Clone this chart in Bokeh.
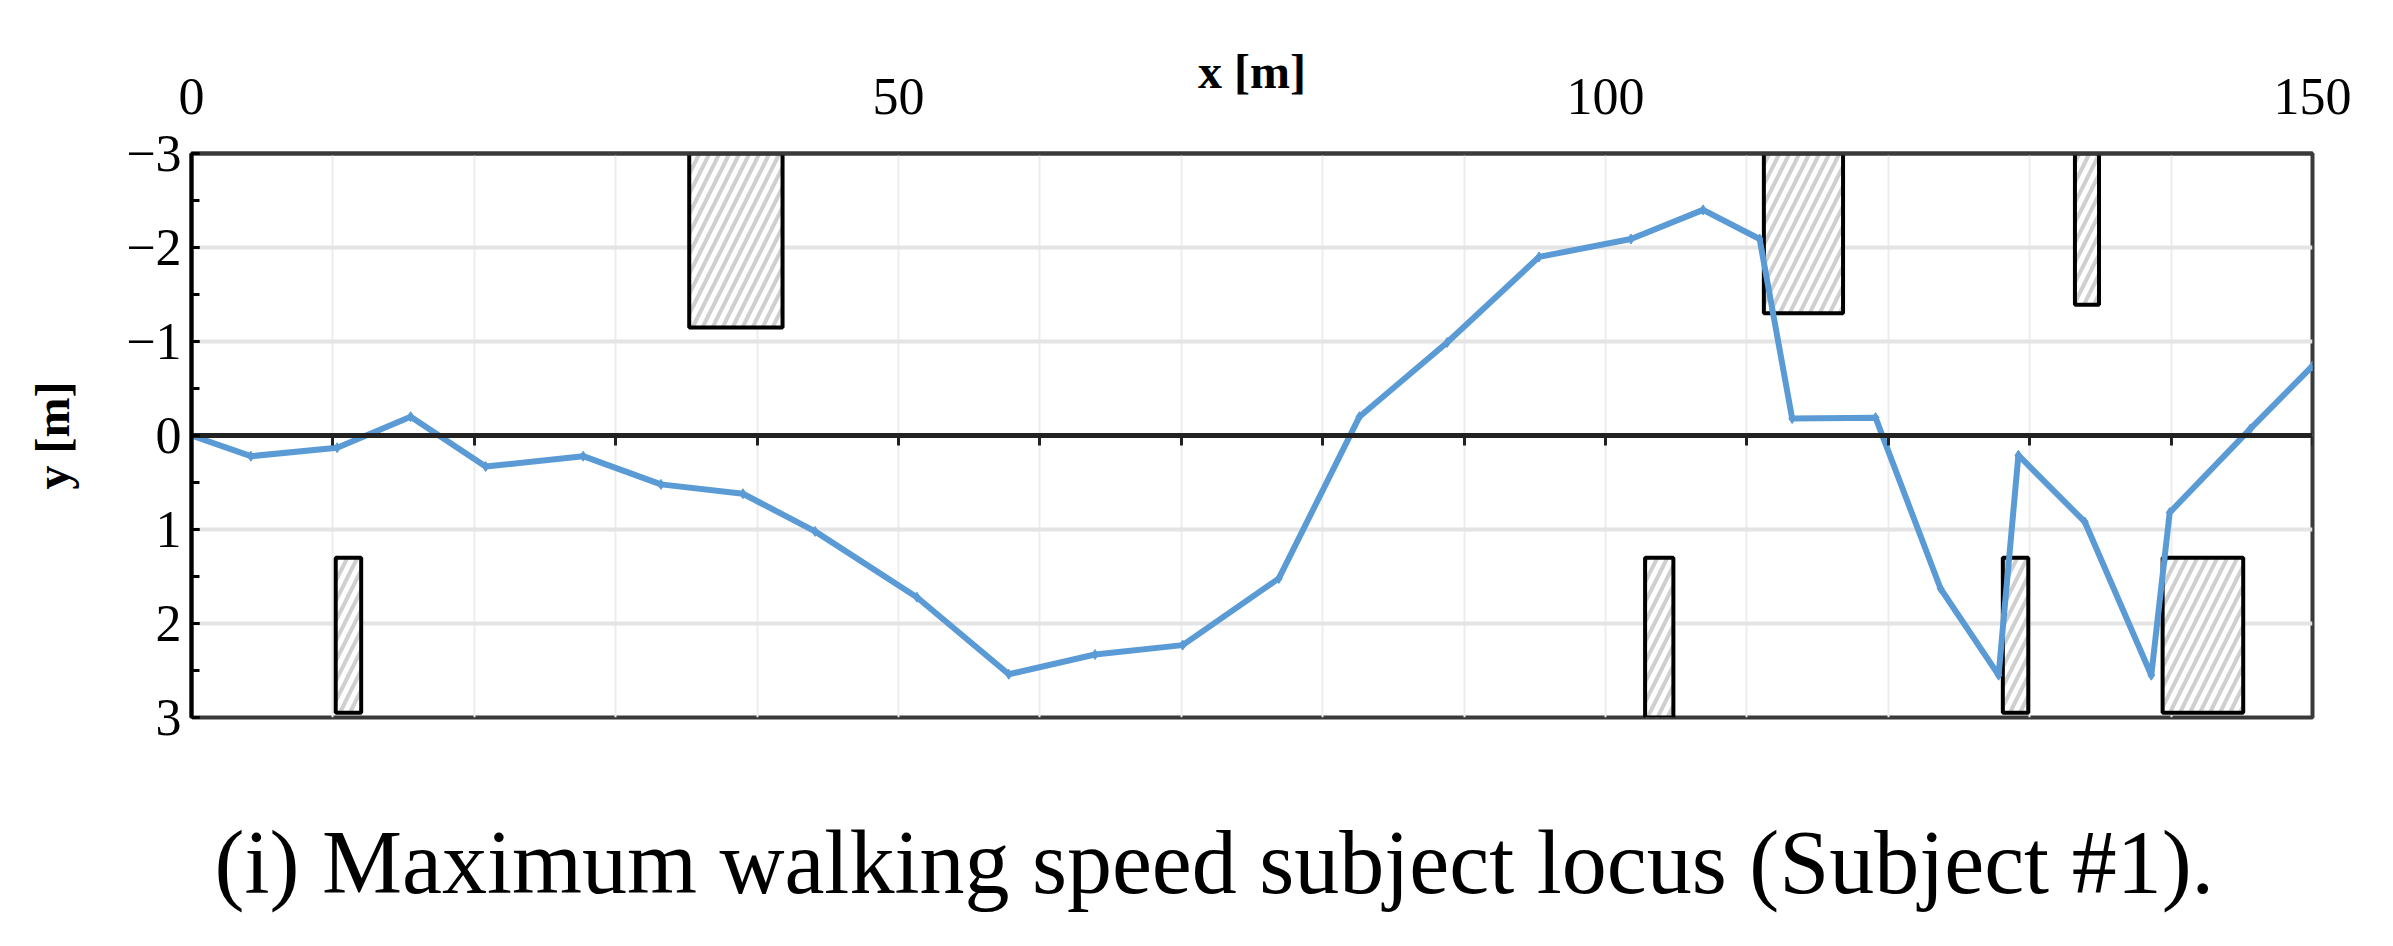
from bokeh.plotting import figure
from bokeh.models import Range1d, LinearAxis, SingleIntervalTicker, FixedTicker, Title
from bokeh.embed import file_html
from bokeh.resources import INLINE

# walking locus (x [m], y [m])
locus_x = [0, 4.2, 10.3, 15.5, 20.8, 27.7, 33.2, 39.0, 44.1, 51.3, 57.8, 63.9, 70.1, 76.9,
           82.6, 88.8, 95.3, 101.8, 106.9, 110.9, 113.2, 119.1, 123.7, 127.8, 129.2, 133.9,
           138.6, 139.9, 145.6, 150.0]
locus_y = [0, 0.22, 0.13, -0.2, 0.33, 0.22, 0.52, 0.62, 1.02, 1.72, 2.54, 2.33, 2.23, 1.52,
           -0.2, -0.99, -1.9, -2.09, -2.4, -2.09, -0.18, -0.19, 1.63, 2.55, 0.21, 0.92,
           2.55, 0.82, -0.07, -0.74]

# obstacles
obs_left = [35.2, 111.2, 133.2, 10.2, 102.8, 128.1, 139.4]
obs_right = [41.8, 116.8, 134.9, 12.0, 104.8, 129.9, 145.1]
obs_top = [-3.0, -3.0, -3.0, 1.3, 1.3, 1.3, 1.3]
obs_bottom = [-1.15, -1.3, -1.39, 2.95, 3.0, 2.95, 2.95]

x_top_ticks = [0, 50, 100, 150]
y_ticks = [-3, -2, -1, 0, 1, 2, 3]
y_labels = ["\u22123", "\u22122", "\u22121", "0", "1", "2", "3"]

caption = "(i) Maximum walking speed subject locus (Subject #1)."

SERIF = "Liberation Serif"

p = figure(width=2377, height=930, output_backend="svg", toolbar_location=None,
           x_range=Range1d(0, 150), y_range=Range1d(3, -3),
           x_axis_location="above",
           min_border_left=191, min_border_right=65, min_border_top=153, min_border_bottom=213)

p.outline_line_color = "#3a3a3a"
p.outline_line_width = 4

# top axis
xa = p.xaxis[0]
xa.ticker = FixedTicker(ticks=x_top_ticks)
xa.major_tick_out = 0
xa.major_tick_in = 0
xa.minor_tick_out = 0
xa.minor_tick_in = 0
xa.axis_line_color = "#3a3a3a"
xa.axis_line_width = 4
xa.major_label_text_font = SERIF
xa.major_label_text_font_size = "52px"
xa.major_label_text_color = "black"
xa.major_label_standoff = 40
xa.axis_label = "x [m]"
xa.axis_label_text_font = SERIF
xa.axis_label_text_font_style = "bold"
xa.axis_label_text_font_size = "48px"
xa.axis_label_text_color = "black"
xa.axis_label_standoff = -22

# left axis
ya = p.yaxis[0]
ya.ticker = SingleIntervalTicker(interval=1, num_minor_ticks=2)
ya.major_label_overrides = {t: l for t, l in zip(y_ticks, y_labels)}
ya.major_tick_out = 0
ya.major_tick_in = 8
ya.minor_tick_out = 0
ya.minor_tick_in = 8
ya.major_tick_line_width = 3
ya.minor_tick_line_width = 3
ya.axis_line_color = "black"
ya.axis_line_width = 4
ya.major_label_text_font = SERIF
ya.major_label_text_font_size = "52px"
ya.major_label_text_color = "black"
ya.major_label_standoff = 10
ya.axis_label = "y [m]"
ya.axis_label_text_font = SERIF
ya.axis_label_text_font_style = "bold"
ya.axis_label_text_font_size = "48px"
ya.axis_label_text_color = "black"
ya.axis_label_standoff = 44

# zero axis line with ticks
za = LinearAxis(fixed_location=0, ticker=SingleIntervalTicker(interval=10, num_minor_ticks=0))
za.axis_line_color = "#222222"
za.axis_line_width = 5
za.major_tick_out = 10
za.major_tick_in = 0
za.major_tick_line_width = 3
za.major_tick_line_color = "#222222"
za.minor_tick_out = 0
za.minor_tick_in = 0
za.major_label_text_font_size = "0px"
za.major_label_text_color = None
p.add_layout(za, "below")

# invisible spacer axis between the frame and the caption
sp = LinearAxis(ticker=FixedTicker(ticks=[0]))
sp.axis_line_color = None
sp.major_tick_out = 93
sp.major_tick_in = 0
sp.major_tick_line_color = "white"
sp.minor_tick_out = 0
sp.minor_tick_in = 0
sp.major_label_text_color = None
p.add_layout(sp, "below")

# grids
p.xgrid.ticker = SingleIntervalTicker(interval=10, num_minor_ticks=0)
p.xgrid.grid_line_color = "#ededed"
p.xgrid.grid_line_width = 2
p.ygrid.ticker = SingleIntervalTicker(interval=1, num_minor_ticks=0)
p.ygrid.grid_line_color = "#e4e4e4"
p.ygrid.grid_line_width = 4

p.quad(left=obs_left, right=obs_right, top=obs_top, bottom=obs_bottom,
       fill_color="white", hatch_pattern="/", hatch_color="#cfcfcf",
       hatch_weight=4, hatch_scale=20, line_color="black", line_width=4)

p.line(locus_x, locus_y, line_color="#5B9BD5", line_width=6)
p.scatter(locus_x, locus_y, marker="diamond", size=10, color="#5B9BD5")

cap = Title(text=caption, align="left", offset=23, text_font=SERIF, text_font_size="90px",
            text_font_style="normal", text_color="black", standoff=0)
p.add_layout(cap, "below")

open("out.html", "w").write(file_html(p, INLINE))
